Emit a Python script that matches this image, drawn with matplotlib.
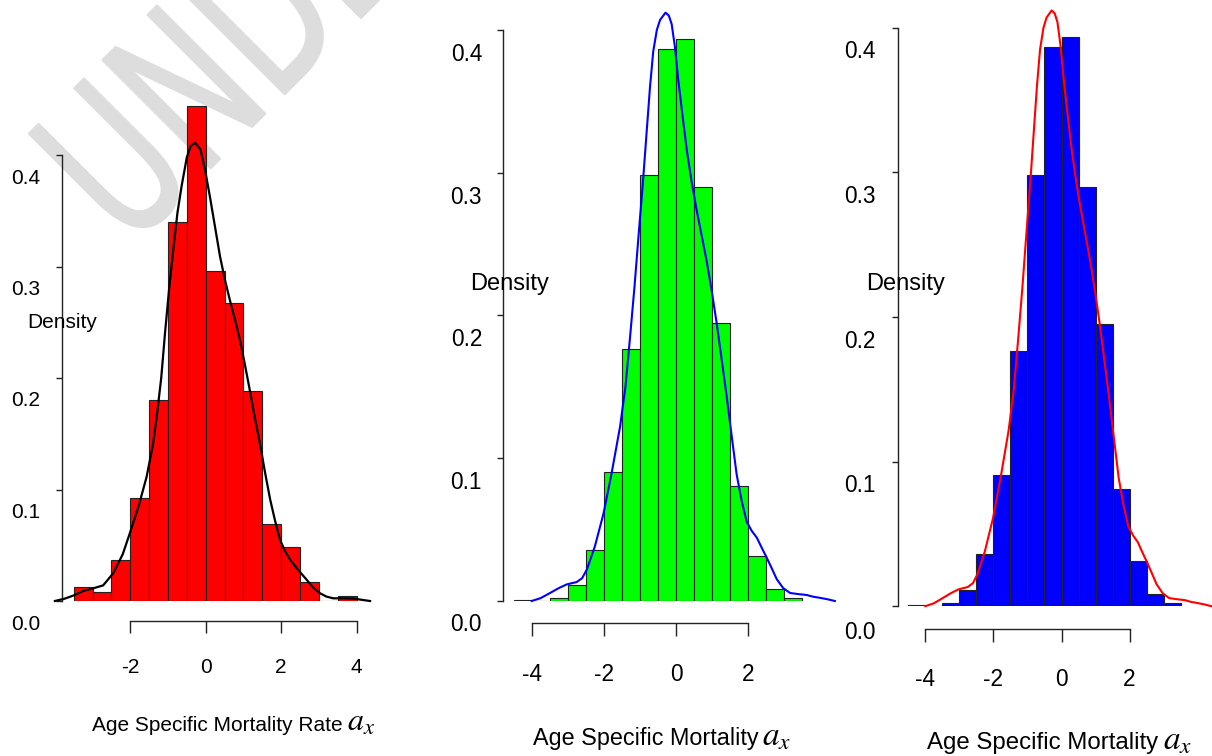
import numpy as np
import matplotlib
matplotlib.use("Agg")
import matplotlib.pyplot as plt
from matplotlib.transforms import Affine2D, ScaledTranslation
from matplotlib.textpath import TextPath
from matplotlib.patches import PathPatch
from matplotlib.font_manager import FontProperties

plt.rcParams['font.family'] = ['Liberation Sans', 'DejaVu Sans']
plt.rcParams['axes.unicode_minus'] = False
plt.rcParams['mathtext.fontset'] = 'stix'

# --- data ---
# left panel: histogram (bin edges, densities) + density curve
edges_a = [-3.5, -3.0, -2.5, -2.0, -1.5, -1.0, -0.5, 0.0, 0.5, 1.0, 1.5, 2.0, 2.5, 3.0, 3.5, 4.0]
dens_a = [0.013, 0.0084, 0.0365, 0.0924, 0.180, 0.3396, 0.4437, 0.2957, 0.2676, 0.1883,
          0.0688, 0.0484, 0.0168, 0.0, 0.0045]
kde_a_x = [-4.00, -3.75, -3.50, -3.25, -3.02, -2.72, -2.45, -2.20, -2.01, -1.78, -1.57, -1.40,
           -1.30, -1.18, -1.08, -0.97, -0.86, -0.75, -0.64, -0.50, -0.40, -0.28, -0.14, -0.02,
           0.11, 0.25, 0.38, 0.51, 0.64, 0.78, 0.91, 1.04, 1.17, 1.30, 1.44, 1.57, 1.71, 1.84,
           1.97, 2.10, 2.24, 2.45, 2.68, 2.85, 3.03, 3.20, 3.38, 3.60, 3.92, 4.15, 4.36]
kde_a_y = [0.000, 0.002, 0.005, 0.009, 0.011, 0.014, 0.025, 0.042, 0.061, 0.085, 0.111, 0.140,
           0.165, 0.200, 0.240, 0.280, 0.315, 0.348, 0.372, 0.398, 0.408, 0.411, 0.405, 0.387,
           0.363, 0.335, 0.309, 0.288, 0.270, 0.252, 0.234, 0.212, 0.189, 0.165, 0.141, 0.116,
           0.091, 0.072, 0.055, 0.045, 0.037, 0.028, 0.019, 0.012, 0.007, 0.004, 0.0024, 0.0024,
           0.0022, 0.001, 0.000]

# middle and right panels share the same histogram and curve
edges_b = [-4.5, -4.0, -3.5, -3.0, -2.5, -2.0, -1.5, -1.0, -0.5, 0.0, 0.5, 1.0, 1.5, 2.0, 2.5, 3.0, 3.5]
dens_b = [0.0008, 0.0, 0.0022, 0.011, 0.036, 0.0905, 0.1766, 0.298, 0.3865, 0.3937, 0.290,
          0.195, 0.0808, 0.0315, 0.0085, 0.0022]
kde_b_x = [-4.00, -3.75, -3.49, -3.25, -3.03, -2.75, -2.60, -2.47, -2.25, -2.01, -1.78, -1.55,
           -1.40, -1.27, -1.15, -1.04, -0.92, -0.81, -0.72, -0.63, -0.53, -0.44, -0.29, -0.20,
           -0.12, -0.03, 0.06, 0.18, 0.30, 0.43, 0.57, 0.71, 0.85, 0.99, 1.13, 1.26, 1.40, 1.54,
           1.68, 1.82, 1.96, 2.10, 2.24, 2.38, 2.51, 2.65, 2.79, 2.97, 3.16, 3.40, 3.62, 3.80,
           3.99, 4.20, 4.40]
kde_b_y = [0.000, 0.002, 0.0056, 0.009, 0.0116, 0.0133, 0.016, 0.022, 0.038, 0.061, 0.090, 0.122,
           0.150, 0.1855, 0.220, 0.255, 0.292, 0.3295, 0.360, 0.385, 0.400, 0.407, 0.412, 0.410,
           0.404, 0.388, 0.3655, 0.340, 0.3156, 0.294, 0.274, 0.256, 0.238, 0.217, 0.194, 0.170,
           0.144, 0.116, 0.0886, 0.070, 0.0554, 0.049, 0.0443, 0.037, 0.0305, 0.023, 0.0153,
           0.009, 0.0056, 0.0048, 0.0042, 0.003, 0.0022, 0.0012, 0.000]

yticks = [0.0, 0.1, 0.2, 0.3, 0.4]
ytick_labels = ["0.0", "0.1", "0.2", "0.3", "0.4"]

W, H = 1212, 756
fig = plt.figure(figsize=(W / 100, H / 100), dpi=100)
fig.patch.set_facecolor("white")

# watermark behind everything
tp = TextPath((0, 0), "UNDER REVIEW", size=1, prop=FontProperties(family="DejaVu Sans"))
wm_tr = Affine2D().scale(140, 210).rotate_deg(45).translate(128.5, H - 250.5)
wm = PathPatch(tp, transform=wm_tr, facecolor="#dddddd", edgecolor="#dddddd",
               lw=1.5, joinstyle="round", zorder=-5)
fig.add_artist(wm)


def panel(x0, sx, y0, sy, xlim, ylim, spine_x, out_pt, xbounds, xticks,
          edges, dens, kx, ky, fill, curve, curve_lw,
          tick_fs, xpad, xlen, lab_dx, lab_dy, lab0_dy):
    left = x0 + xlim[0] * sx
    right = x0 + xlim[1] * sx
    top = y0 - ylim[1] * sy
    ax = fig.add_axes([left / W, 1 - y0 / H, (right - left) / W, (y0 - top) / H])
    ax.set_facecolor("none")
    ax.set_xlim(xlim)
    ax.set_ylim(ylim)

    widths = np.diff(edges)
    ax.bar(edges[:-1], dens, width=widths, align="edge", color=fill,
           edgecolor="#222222", linewidth=0.8, zorder=2)
    ax.plot(kx, ky, color=curve, lw=curve_lw, clip_on=False, zorder=3)

    for s in ("top", "right"):
        ax.spines[s].set_visible(False)
    ax.spines["left"].set_position(("data", spine_x))
    ax.spines["left"].set_bounds(0, 0.4)
    ax.spines["bottom"].set_position(("outward", out_pt))
    ax.spines["bottom"].set_bounds(*xbounds)
    for s in ("left", "bottom"):
        ax.spines[s].set_linewidth(1.0)
        ax.spines[s].set_color("#222222")

    ax.set_xticks(xticks)
    ax.set_xticklabels([str(t) for t in xticks])
    ax.tick_params(axis="x", direction="out", length=xlen, width=1.0, color="#222222",
                   pad=xpad, labelsize=tick_fs)
    ax.set_yticks(yticks)
    ax.tick_params(axis="y", direction="out", length=4.5, width=1.0, color="#222222",
                   labelleft=False)

    # y tick labels sit below their ticks, as in the source
    for v, lab in zip(yticks, ytick_labels):
        dy = lab0_dy if v == 0 else lab_dy
        off = ScaledTranslation(lab_dx / 100, -dy / 100, fig.dpi_scale_trans)
        ax.text(spine_x, v, lab, transform=ax.transData + off, ha="right",
                va="center_baseline", fontsize=tick_fs, clip_on=False)
    return ax


panel(205.7, 37.7, 601, 1115, (-4.3, 4.6), (0, 0.46), -3.80, 14.4, (-2, 4), [-2, 0, 2, 4],
      edges_a, dens_a, kde_a_x, kde_a_y, "#ff0000", "black", 1.6,
      15, 18.0, 8.4, -22.5, 21, 21)
panel(676, 36.1, 601, 1428, (-5.0, 4.6), (0, 0.42), -4.80, 16.1, (-4, 2), [-4, -2, 0, 2],
      edges_b, dens_b, kde_b_x, kde_b_y, "#00ff00", "#0000ff", 1.5,
      16.3, 19.0, 9.6, -20.7, 22, 21)
panel(1061.5, 34.05, 606.2, 1446, (-4.9, 4.4), (0, 0.42), -4.81, 16.6, (-4, 2), [-4, -2, 0, 2],
      edges_b, dens_b, kde_b_x, kde_b_y, "#0000ff", "#ff0000", 1.5,
      16.3, 18.4, 9.6, -22.0, 21.5, 24)


def fig_text(x, y, s, **kw):
    fig.text(x / W, 1 - y / H, s, **kw)


# "Density" labels
fig_text(62, 323, "Density", ha="center", va="center", fontsize=15)
fig_text(509.5, 284, "Density", ha="center", va="center", fontsize=17)
fig_text(906, 284, "Density", ha="center", va="center", fontsize=17)

# x labels
fig_text(91.7, 731, "Age Specific Mortality Rate", ha="left", va="baseline", fontsize=15)
fig_text(347, 731, r"$a_x$", ha="left", va="baseline", fontsize=23)
fig_text(533.3, 745, "Age Specific Mortality", ha="left", va="baseline", fontsize=16.8)
fig_text(762, 746, r"$a_x$", ha="left", va="baseline", fontsize=24)
fig_text(926.7, 749, "Age Specific Mortality", ha="left", va="baseline", fontsize=17.3)
fig_text(1163, 750, r"$a_x$", ha="left", va="baseline", fontsize=24)

fig.savefig("out.png", dpi=100, facecolor="white")
